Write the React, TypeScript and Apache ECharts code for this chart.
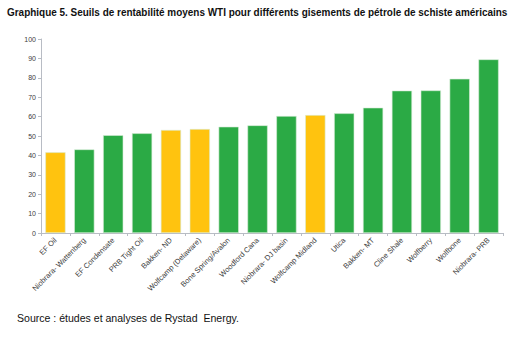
import React, { useEffect, useRef } from "react";
import * as echarts from "echarts";

const categories = [
  "EF Oil",
  "Niobrara- Wattenberg",
  "EF Condensate",
  "PRB Tight Oil",
  "Bakken- ND",
  "Wolfcamp (Delaware)",
  "Bone Spring/Avalon",
  "Woodford Cana",
  "Niobrara- DJ basin",
  "Wolfcamp Midland",
  "Utica",
  "Bakken- MT",
  "Cline Shale",
  "Wolfberry",
  "Wolfbone",
  "Niobrara- PRB",
];
const values = [41.6, 43.1, 50.4, 51.4, 53.1, 53.6, 54.8, 55.5, 60.3, 60.8, 61.7, 64.6, 73.4, 73.5, 79.5, 89.5];
const highlighted = [true, false, false, false, true, true, false, false, false, true, false, false, false, false, false, false];
const yTicks = [0, 10, 20, 30, 40, 50, 60, 70, 80, 90, 100];

const titleText = "Graphique 5. Seuils de rentabilité moyens WTI pour différents gisements de pétrole de schiste américains";
const sourceText = "Source : études et analyses de Rystad  Energy.";

export default function App() {
  const ref = useRef<HTMLDivElement>(null);
  useEffect(() => {
    const chart = echarts.init(ref.current!, null, { renderer: "svg" });
    chart.setOption({
      animation: false,
      backgroundColor: "#ffffff",
      graphic: [
        {
          type: "text",
          left: 7,
          top: 7,
          style: {
            text: titleText,
            fontFamily: "Liberation Sans, Arial, sans-serif",
            fontSize: 11,
            fontWeight: "bold",
            fill: "#111111",
            width: 560,
            overflow: "none",
          },
          scaleX: 0.905,
        },
        {
          type: "text",
          left: 17,
          top: 312,
          style: {
            text: sourceText,
            fontFamily: "Liberation Sans, Arial, sans-serif",
            fontSize: 11,
            fill: "#111111",
          },
          scaleX: 0.96,
        },
      ],
      grid: { left: 41, right: 12, top: 39, bottom: 104, containLabel: false },
      xAxis: {
        type: "category",
        data: categories,
        axisLine: { lineStyle: { color: "#b8bcc4", width: 1 } },
        axisTick: { show: true, length: 3, lineStyle: { color: "#b8bcc4" } },
        axisLabel: {
          rotate: 45,
          interval: 0,
          fontSize: 7.5,
          color: "#404040",
          fontFamily: "Liberation Sans, Arial, sans-serif",
          margin: 6,
        },
      },
      yAxis: {
        type: "value",
        min: yTicks[0],
        max: yTicks[yTicks.length - 1],
        interval: 10,
        axisLine: { show: true, lineStyle: { color: "#b8bcc4", width: 1 } },
        axisTick: { show: true, length: 3, lineStyle: { color: "#b8bcc4" } },
        splitLine: { show: false },
        axisLabel: {
          fontSize: 7,
          color: "#404040",
          fontFamily: "Liberation Sans, Arial, sans-serif",
          margin: 5,
        },
      },
      series: [
        {
          type: "bar",
          barCategoryGap: "30%",
          data: values.map((v, i) => ({
            value: v,
            itemStyle: {
              color: highlighted[i] ? "#ffc30f" : "#2baa45",
              borderColor: "#d8ecd8",
              borderWidth: 0.6,
            },
          })),
        },
      ],
    });
    return () => chart.dispose();
  }, []);
  return <div ref={ref} style={{ width: 515, height: 337, position: "absolute", left: 0, top: 0 }} />;
}
